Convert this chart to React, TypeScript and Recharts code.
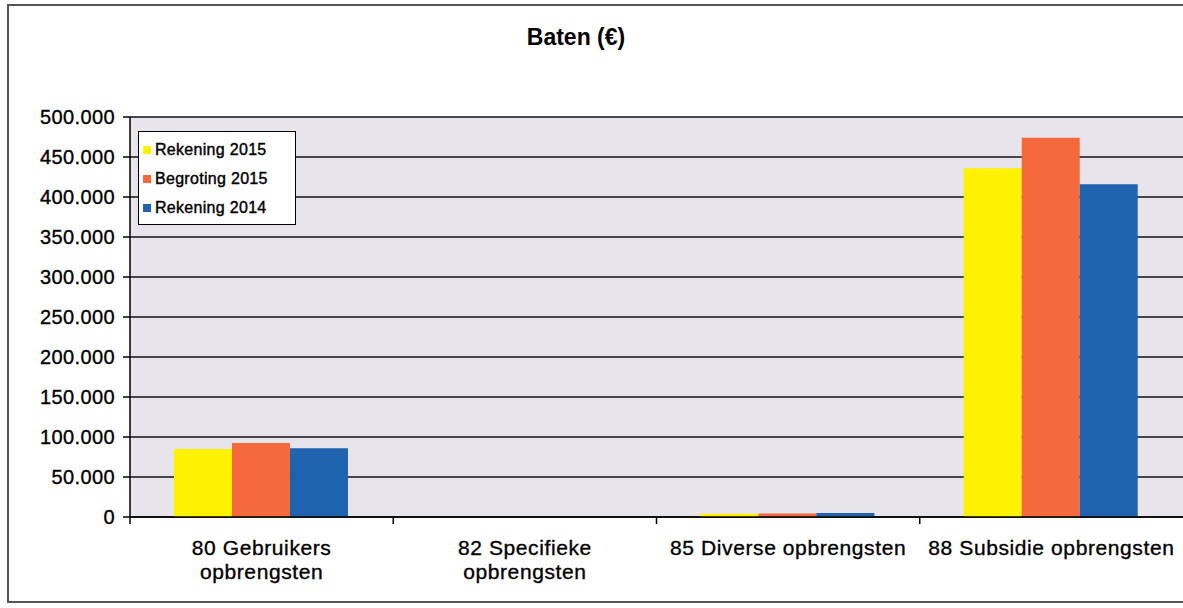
import { BarChart, Bar, XAxis, YAxis, CartesianGrid } from "recharts";

const categories = ["80 Gebruikers\nopbrengsten", "82 Specifieke\nopbrengsten", "85 Diverse opbrengsten", "88 Subsidie opbrengsten"];
const rekening2015 = [85000, 0, 4000, 436000];
const begroting2015 = [92500, 0, 4500, 474000];
const rekening2014 = [86000, 0, 5000, 416000];
const yTicks = [0, 50000, 100000, 150000, 200000, 250000, 300000, 350000, 400000, 450000, 500000];

const series = [
    { key: "r2015", name: "Rekening 2015", color: "#fff200" },
    { key: "b2015", name: "Begroting 2015", color: "#f4693c" },
    { key: "r2014", name: "Rekening 2014", color: "#1f63ae" },
];

const data = categories.map((c, i) => ({
    cat: c,
    r2015: rekening2015[i],
    b2015: begroting2015[i],
    r2014: rekening2014[i],
}));

const W = 1183;
const H = 608;
const M = { top: 117, right: 0, bottom: 0, left: 8 };
const Y_W = 122;
const band = (W - M.left - M.right - Y_W) / categories.length;
const FONT = "'Liberation Sans', Arial, sans-serif";

const fmt = (v: number) => String(v).replace(/\B(?=(\d{3})+(?!\d))/g, ".");

function CatTick(props: any) {
    const { x, y, payload } = props;
    const lines = String(payload.value).split("\n");
    return (
        <g>
            <line x1={x - band / 2} x2={x - band / 2} y1={y - 8} y2={y - 1} stroke="#000" strokeWidth={1.5} />
            {lines.map((l, i) => (
                <text key={i} x={x} y={y + 30 + i * 24} textAnchor="middle" fontSize={21} letterSpacing={0.6} fill="#000"
                    stroke="#000" strokeWidth={0.35} fontFamily={FONT}>{l}</text>
            ))}
        </g>
    );
}

function YTick(props: any) {
    const { x, y, payload } = props;
    return (
        <text x={x - 6} y={y} dy={7} textAnchor="end" fontSize={20} letterSpacing={0.4} fill="#000"
            stroke="#000" strokeWidth={0.35} fontFamily={FONT}>{fmt(payload.value)}</text>
    );
}

function LegendBox() {
    return (
        <div style={{ position: "absolute", left: 138, top: 131, width: 158, height: 94, background: "#fff", border: "1.5px solid #000", padding: "3px 0 0 4px", boxSizing: "border-box" }}>
            {series.map((s) => (
                <div key={s.key} style={{ display: "flex", alignItems: "center", height: 29, fontSize: 16, letterSpacing: 0.3, color: "#000", fontFamily: FONT, WebkitTextStroke: "0.4px #000" }}>
                    <span style={{ width: 8, height: 8, background: s.color, marginRight: 4, display: "inline-block" }} />
                    {s.name}
                </div>
            ))}
        </div>
    );
}

export default function App() {
    return (
        <div style={{ position: "absolute", left: 0, top: 0, width: W, height: H, background: "#fff", overflow: "hidden" }}>
            <div style={{ position: "absolute", left: 7, top: 4, width: W + 10, height: 599, border: "2px solid #555", boxSizing: "border-box" }} />
            <div style={{ position: "absolute", left: 0, top: 24, width: 1152, textAlign: "center", fontSize: 23, fontWeight: "bold", fontFamily: FONT, color: "#000" }}>
                Baten (€)
            </div>
            <div style={{ position: "absolute", left: 0, top: 0 }}>
                <BarChart width={W} height={H} data={data} margin={M} barCategoryGap="16.7%" barGap={0}>
                    <CartesianGrid vertical={false} fill="#e7e5eb" stroke="#111" strokeWidth={1.5} />
                    <XAxis dataKey="cat" interval={0} tickLine={false} axisLine={{ stroke: "#000", strokeWidth: 1.5 }} tick={<CatTick />} height={91} />
                    <YAxis domain={[0, 500000]} ticks={yTicks} width={Y_W} interval={0}
                        axisLine={{ stroke: "#000", strokeWidth: 1.5 }} tickLine={{ stroke: "#000", strokeWidth: 1.5 }} tickSize={7}
                        tick={<YTick />} />
                    {series.map((s) => (
                        <Bar key={s.key} dataKey={s.key} name={s.name} fill={s.color} isAnimationActive={false} />
                    ))}
                </BarChart>
            </div>
            <LegendBox />
        </div>
    );
}
